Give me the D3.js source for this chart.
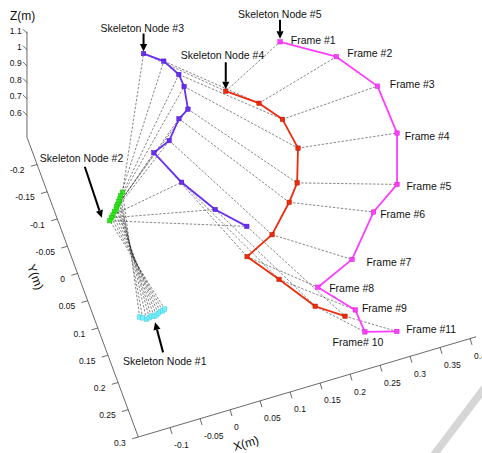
<!DOCTYPE html>
<html><head><meta charset="utf-8">
<script src="https://cdn.jsdelivr.net/npm/d3@7"></script>
<style>
body{margin:0;background:#fff}
svg{display:block}
text{font-family:"Liberation Sans",Arial,Helvetica,sans-serif;fill:#111}
</style>
</head><body>
<svg id="chart" width="482" height="453"></svg>
<script>
// ---------- DATA (metres) ----------
const frameLabels = ["Frame #1","Frame #2","Frame #3","Frame #4","Frame #5","Frame #6","Frame #7","Frame #8","Frame #9","Frame# 10","Frame #11"];
const nodeNames = ["Skeleton Node #1","Skeleton Node #2","Skeleton Node #3","Skeleton Node #4","Skeleton Node #5"];
// [X, Y, Z] of each skeleton node for frames 1..11
const node1 = [[-0.089,0.117,0.52],[-0.085,0.120,0.52],[-0.080,0.124,0.52],[-0.075,0.123,0.52],[-0.071,0.121,0.52],[-0.067,0.123,0.52],[-0.063,0.122,0.52],[-0.059,0.120,0.52],[-0.055,0.118,0.52],[-0.051,0.118,0.52],[-0.047,0.116,0.52]];
const node2 = [[-0.068,-0.030,0.77],[-0.073,-0.025,0.77],[-0.076,-0.020,0.77],[-0.079,-0.016,0.77],[-0.082,-0.012,0.77],[-0.085,-0.009,0.77],[-0.087,-0.005,0.77],[-0.091,-0.002,0.77],[-0.095,0.003,0.77],[-0.099,0.007,0.77],[-0.103,0.011,0.77]];
const node3 = [[0.018,-0.181,1.02],[0.046,-0.164,1.00],[0.063,-0.140,0.98],[0.066,-0.123,0.96],[0.061,-0.089,0.94],[0.044,-0.083,0.92],[0.019,-0.057,0.90],[-0.009,-0.050,0.88],[0.018,0.007,0.86],[0.055,0.063,0.84],[0.095,0.101,0.82]];
const node4 = [[0.125,-0.092,0.97],[0.171,-0.064,0.94],[0.200,-0.034,0.91],[0.210,0.013,0.88],[0.192,0.062,0.85],[0.172,0.082,0.82],[0.131,0.119,0.79],[0.084,0.135,0.76],[0.122,0.180,0.73],[0.164,0.234,0.70],[0.206,0.257,0.67]];
const node5 = [[0.234,-0.147,0.97],[0.313,-0.103,0.94],[0.362,-0.045,0.90],[0.368,0.034,0.87],[0.343,0.108,0.83],[0.295,0.134,0.80],[0.240,0.191,0.76],[0.176,0.212,0.73],[0.223,0.257,0.69],[0.228,0.290,0.66],[0.280,0.294,0.62]];

const xTicks = [-0.1,-0.05,0,0.05,0.1,0.15,0.2,0.25,0.3,0.35,0.4];
const xTickLabels = ["-0.1","-0.05","0","0.05","0.1","0.15","0.2","0.25","0.3","0.35","0.4"];
const yTicks = [-0.2,-0.15,-0.1,-0.05,0,0.05,0.1,0.15,0.2,0.25,0.3];
const yTickLabels = ["-0.2","-0.15","-0.1","-0.05","0","0.05","0.1","0.15","0.2","0.25","0.3"];
const zTicks = [0.6,0.7,0.8,0.9,1,1.1];
const zTickLabels = ["0.6","0.7","0.8","0.9","1","1.1"];

// ---------- LAYOUT ----------
const nodes = [node1,node2,node3,node4,node5];
const colors = ["#72f2ff","#2aea14","#6a2ef2","#ee2a0a","#ff3dff"];
const markerStroke = ["#4cc8dd","#1cb80c","#4a18c0","#b81800","#d020d0"];
const lineW = [1.6,2.6,1.8,1.8,1.8];
const frameLabelOffsets = [[10.7,1.8],[11,0.8],[12.3,1.5],[7.7,6.8],[9.4,5.3],[6.7,5.8],[14.4,6.5],[11.3,4.8],[6.7,2.5],[-32.3,14.1],[9.3,1.5]];
// annotation: node index, frame index, tip offset, tail offset (from tip), label pos (from tip)
const annotations = [
  {n:0,f:5,tip:[1,6],tail:[8,30],lab:[-32,43]},
  {n:1,f:10,tip:[-8,-3],tail:[-17,-51],lab:[-62,-56]},
  {n:2,f:0,tip:[0,-2],tail:[0,-18],lab:[-43,-20]},
  {n:3,f:0,tip:[0,-2],tail:[0,-27],lab:[-45,-30]},
  {n:4,f:0,tip:[0,-3],tail:[0,-19],lab:[-42,-21]}
];

const svg = d3.select("#chart");

// oblique 3-D projection built from linear scales along each axis
const xU = d3.scaleLinear().domain([-0.153,0.4]).range([0,1]);
const yU = d3.scaleLinear().domain([0.3,-0.25]).range([0,1]);
const zU = d3.scaleLinear().domain([0.466,1.1]).range([0,1]);
const O=[138.3,437], VX=[331.8,-98.43], VY=[-111.32,-299.75], VZ=[0,-103.98];
function P(p){const a=xU(p[0]),b=yU(p[1]),c=zU(p[2]);
  return [O[0]+a*VX[0]+b*VY[0]+c*VZ[0], O[1]+a*VX[1]+b*VY[1]+c*VZ[1]];}
const XC=-0.153, YB=0.3, YT=-0.25, ZC=0.466;

// page-shadow band
svg.append("line").attr("x1",486).attr("y1",386).attr("x2",433).attr("y2",456)
  .attr("stroke","#d6d6d6").attr("stroke-width",7.5);

// axes
const axG = svg.append("g").attr("stroke","#444").attr("stroke-width",0.8).attr("fill","none");
const axLine = (a,b)=>{const p=P(a),q=P(b);axG.append("line").attr("x1",p[0]).attr("y1",p[1]).attr("x2",q[0]).attr("y2",q[1]);};
axLine([XC,YT,ZC],[XC,YT,1.11]);
axLine([XC,YT,ZC],[XC,YB,ZC]);
axLine([XC,YB,ZC],[0.41,YB,ZC]);

const tickFont = 8.5;
xTicks.forEach((t,i)=>{const p=P([t,YB,ZC]);
  axG.append("line").attr("x1",p[0]).attr("y1",p[1]).attr("x2",p[0]+1.9).attr("y2",p[1]+6.3);
  svg.append("text").attr("x",p[0]+4).attr("y",p[1]+20.4).attr("font-size",tickFont).text(xTickLabels[i]);});
yTicks.forEach((t,i)=>{const p=P([XC,t,ZC]);
  axG.append("line").attr("x1",p[0]).attr("y1",p[1]).attr("x2",p[0]-6.2).attr("y2",p[1]+1.8);
  svg.append("text").attr("x",p[0]-12.5).attr("y",p[1]+8.5).attr("text-anchor","end").attr("font-size",tickFont).text(yTickLabels[i]);});
zTicks.forEach((t,i)=>{const p=P([XC,YT,t]);
  axG.append("line").attr("x1",p[0]).attr("y1",p[1]).attr("x2",p[0]-4).attr("y2",p[1]-4);
  svg.append("text").attr("x",p[0]-5.3).attr("y",p[1]+0.3).attr("text-anchor","end").attr("font-size",tickFont).text(zTickLabels[i]);});

// axis titles
svg.append("text").attr("x",10).attr("y",20).attr("font-size",12).text("Z(m)");
{const a=P([0.0,YB,ZC]);
 svg.append("text").attr("transform",`translate(${a[0]+17},${a[1]+37.5}) rotate(-16.5)`).attr("text-anchor","middle").attr("font-size",12).text("X(m)");}
{const a=P([XC,-0.01,ZC]);
 svg.append("text").attr("transform",`translate(${a[0]-40},${a[1]+9}) rotate(69.6)`).attr("text-anchor","middle").attr("dy","0.35em").attr("font-size",12).text("Y(m)");}

// dashed skeleton links for every frame
const dashG = svg.append("g").attr("stroke","#333").attr("stroke-width",0.6).attr("stroke-dasharray","2.4,1.6").attr("fill","none");
frameLabels.forEach((f,i)=>{
  for(let k=0;k<4;k++){const p=P(nodes[k][i]),q=P(nodes[k+1][i]);
    dashG.append("line").attr("x1",p[0]).attr("y1",p[1]).attr("x2",q[0]).attr("y2",q[1]);}
});

// node trajectories
const line = d3.line().x(d=>P(d)[0]).y(d=>P(d)[1]);
nodes.forEach((nd,k)=>{
  svg.append("path").datum(nd).attr("d",line).attr("fill","none")
    .attr("stroke",colors[k]).attr("stroke-width",lineW[k]).attr("stroke-linejoin","round");
  svg.append("g").selectAll("rect").data(nd).join("rect")
    .attr("x",d=>P(d)[0]-2.2).attr("y",d=>P(d)[1]-2.2).attr("width",4.4).attr("height",4.4)
    .attr("fill",colors[k]).attr("stroke",markerStroke[k]).attr("stroke-width",0.5);
});

// frame labels next to node #5
frameLabels.forEach((f,i)=>{const p=P(node5[i]);
  svg.append("text").attr("x",p[0]+frameLabelOffsets[i][0]).attr("y",p[1]+frameLabelOffsets[i][1])
    .attr("font-size",10.5).text(f);});

// annotations with arrows
function arrow(tail,tip){
  const dx=tip[0]-tail[0], dy=tip[1]-tail[1], L=Math.hypot(dx,dy), ux=dx/L, uy=dy/L;
  const hl=7.5, hw=3.6, bx=tip[0]-ux*hl, by=tip[1]-uy*hl;
  svg.append("line").attr("x1",tail[0]).attr("y1",tail[1]).attr("x2",bx).attr("y2",by)
    .attr("stroke","#000").attr("stroke-width",2);
  svg.append("path").attr("d",`M${tip[0]},${tip[1]}L${bx-uy*hw},${by+ux*hw}L${bx+uy*hw},${by-ux*hw}Z`).attr("fill","#000");
}
annotations.forEach(a=>{
  const p=P(nodes[a.n][a.f]);
  const tip=[p[0]+a.tip[0],p[1]+a.tip[1]];
  arrow([tip[0]+a.tail[0],tip[1]+a.tail[1]],tip);
  svg.append("text").attr("x",tip[0]+a.lab[0]).attr("y",tip[1]+a.lab[1]).attr("font-size",10.5).text(nodeNames[a.n]);
});
</script>
</body></html>
